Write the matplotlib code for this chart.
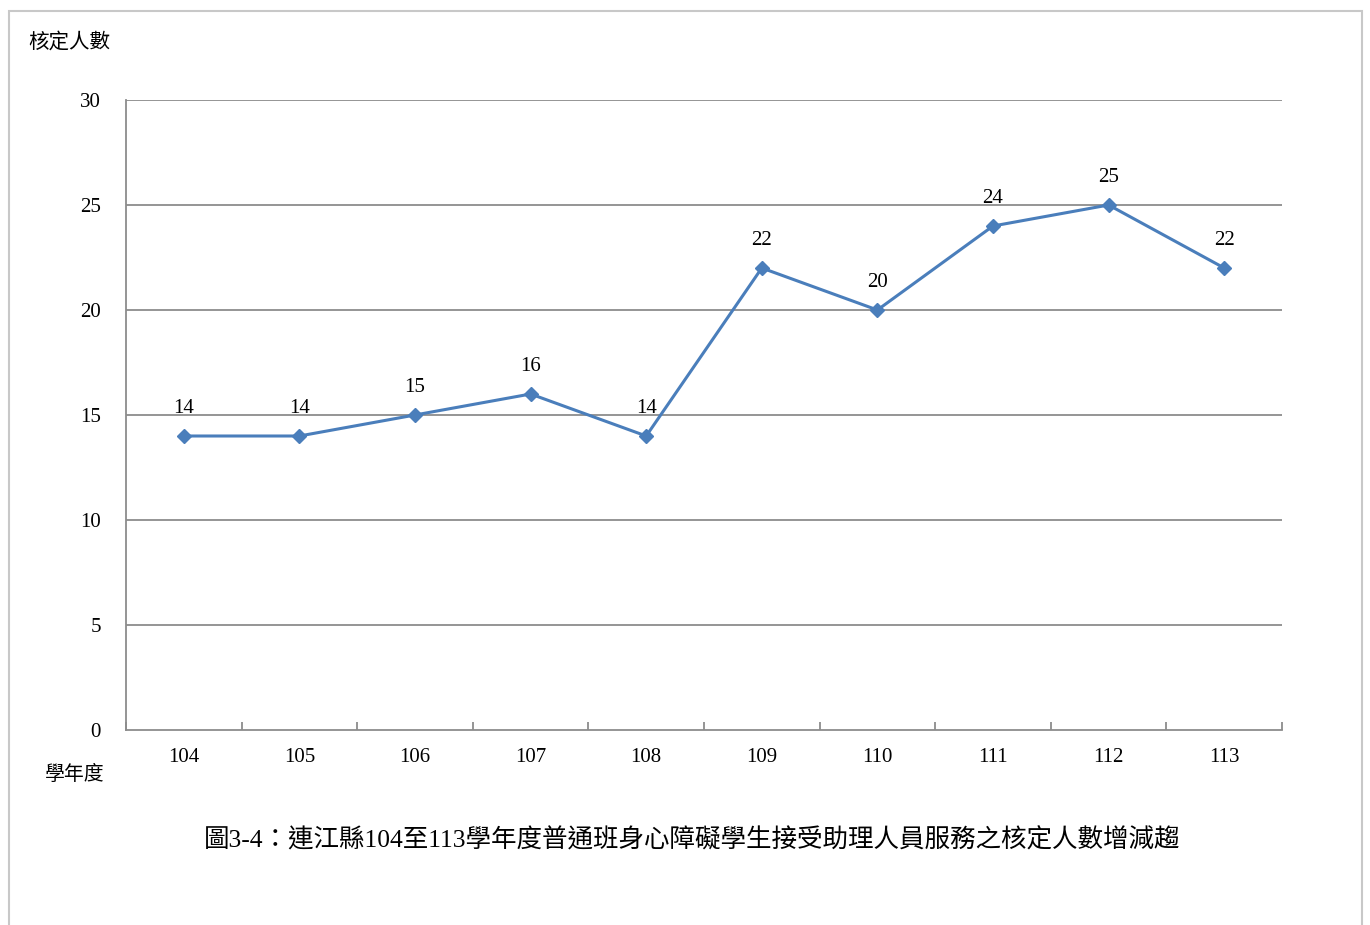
import matplotlib
matplotlib.use("Agg")
import matplotlib.pyplot as plt
from matplotlib.patches import Rectangle

years = ["104", "105", "106", "107", "108", "109", "110", "111", "112", "113"]
counts = [14, 14, 15, 16, 14, 22, 20, 24, 25, 22]
yticks = [0, 5, 10, 15, 20, 25, 30]

plt.rcParams['font.family'] = ['Liberation Serif', 'Noto Sans CJK TC', 'DejaVu Sans']

W, H = 1370, 925
fig = plt.figure(figsize=(W / 100, H / 100), dpi=100)
ax = fig.add_axes([126 / W, 1 - 730 / H, (1282 - 126) / W, (730 - 100) / H])

grid_c = '#8c8c8c'
line_c = '#4a7ebb'
x = list(range(len(years)))
ax.plot(x, counts, color=line_c, lw=2.2, marker='D', ms=7.5, mec=line_c, mfc=line_c, zorder=3)
for xi, v in zip(x, counts):
    ax.annotate(str(v), (xi, v), xytext=(0, 13), textcoords='offset points',
                ha='center', va='bottom', fontsize=15, color='black')

ax.set_xlim(-0.5, len(years) - 0.5)
ax.set_ylim(0, 30)
ax.set_yticks(yticks)
ax.set_yticklabels([str(t) for t in yticks], fontsize=15)
ax.tick_params(axis='y', length=0, pad=18)
for t in yticks[1:]:
    ax.axhline(t, color=grid_c, lw=1.3, zorder=1)

ax.set_xticks([i - 0.5 for i in range(len(years) + 1)], minor=False)
ax.set_xticklabels([])
ax.set_xticks(x, minor=True)
ax.set_xticklabels(years, minor=True, fontsize=15)
ax.tick_params(axis='x', which='major', direction='in', length=6, color=grid_c, width=1.3)
ax.tick_params(axis='x', which='minor', length=0, pad=13)

for s in ['top', 'right']:
    ax.spines[s].set_visible(False)
for s in ['left', 'bottom']:
    ax.spines[s].set_color(grid_c)
    ax.spines[s].set_linewidth(1.3)

fig.text(28 / W, 1 - 43 / H, "核定人數", fontsize=14.8, ha='left', va='center')
fig.text(45 / W, 1 - 775 / H, "學年度", fontsize=14.3, ha='left', va='center')
fig.text(692 / W, 1 - 840 / H, "圖3-4：連江縣104至113學年度普通班身心障礙學生接受助理人員服務之核定人數增減趨",
         fontsize=18.4, ha='center', va='center')

fig.patches.append(Rectangle((9 / W, -0.05), (1362 - 9) / W, 1 - 11 / H + 0.05,
                             transform=fig.transFigure, fill=False, edgecolor='#c8c8c8', lw=1.5))

fig.savefig("out.png", dpi=100)
